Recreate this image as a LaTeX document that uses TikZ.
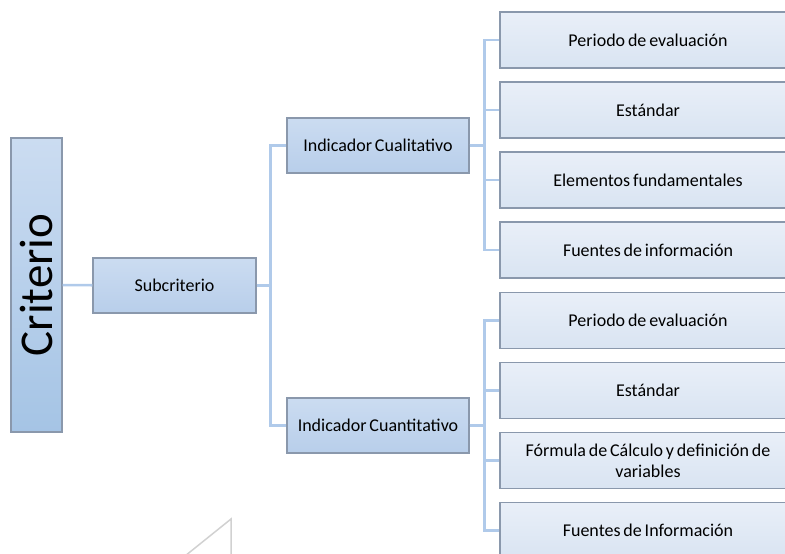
\documentclass[tikz,border=0pt]{standalone}
\usepackage{fontspec}
\setmainfont{Carlito}[WordSpace=0.7]
\usepackage{graphicx}
\usepackage{tikz}
\definecolor{boxline}{RGB}{138,152,172}
\definecolor{bus}{RGB}{176,202,234}
\definecolor{darktop}{RGB}{203,220,241}
\definecolor{darkbot}{RGB}{184,206,234}
\definecolor{lighttop}{RGB}{233,239,248}
\definecolor{lightbot}{RGB}{217,228,242}
\tikzset{
    every node/.style={draw=boxline, line width=1.2pt, inner sep=2pt,
    	font=\fontsize{18}{21}\selectfont, align=center}
}
\tikzset{
    mid/.style={top color=darktop, bottom color=darkbot,
    	minimum height=55pt},
    leaf/.style={top color=lighttop, bottom color=lightbot,
    	minimum width=296pt, minimum height=56pt}
}
\tikzset{
    every edge/.append style={draw=bus, line width=2.6pt},
    elbow/.style={to path={-- ++(15,0) |- (\tikztotarget)}}
}

\begin{document}
\begin{tikzpicture}[x=1pt, y=-1pt]
	\useasboundingbox (0,0) rectangle (785,554);
	\node (crit) [top color=darktop, bottom color={rgb,255:red,165;green,196;blue,229},
		minimum width=51pt, minimum height=294pt,
		font=\fontsize{47}{47}\selectfont] at (36.5,285) {\rotatebox{90}{Criterio}};
	\node (sub) [mid, minimum width=163pt] at (174.5,285.5) {Subcriterio};
	\node (cual) [mid, minimum width=182pt] at (378,145.5) {Indicador Cualitativo};
	\node (cuan) [mid, minimum width=182pt] at (378,425.5) {Indicador Cuantitativo};

	\node (a1) [leaf] at (648,40) {Periodo de evaluación};
	\node (a2) [leaf] at (648,110) {Estándar};
	\node (a3) [leaf] at (648,180) {Elementos fundamentales};
	\node (a4) [leaf] at (648,250) {Fuentes de información};

	\node (b1) [leaf] at (648,320.5) {Periodo de evaluación};
	\node (b2) [leaf] at (648,390.5) {Estándar};
	\node (b3) [leaf] at (648,460.5) {Fórmula de Cálculo y definición de\\variables};
	\node (b4) [leaf] at (648,530.5) {Fuentes de Información};

	\draw (crit) edge (sub);
	\draw (sub.east) edge [elbow, to path={-- ++(14,0) |- (\tikztotarget)}] (cual.west);
	\draw (sub.east) edge [elbow, to path={-- ++(14,0) |- (\tikztotarget)}] (cuan.west);

	\draw (cual.east) edge [elbow] (a1.west); \draw (cual.east) edge [elbow] (a2.west);
	\draw (cual.east) edge [elbow] (a3.west); \draw (cual.east) edge [elbow] (a4.west);

	\draw (cuan.east) edge [elbow] (b1.west); \draw (cuan.east) edge [elbow] (b2.west);
	\draw (cuan.east) edge [elbow] (b3.west); \draw (cuan.east) edge [elbow] (b4.west);

	\draw [black!18, line width=1.5pt] (185,556) -- (231,519) -- (231,556);
\end{tikzpicture}
\end{document}
